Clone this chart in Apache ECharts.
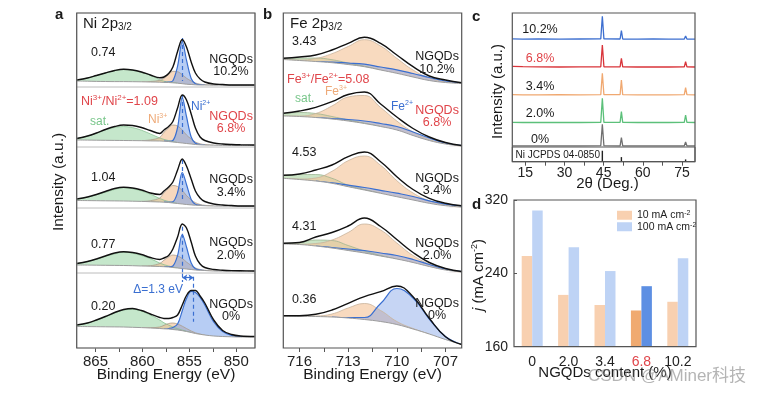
<!DOCTYPE html>
<html><head><meta charset="utf-8">
<script src="https://cdn.jsdelivr.net/npm/echarts@6/dist/echarts.min.js"></script>
<style>html,body{margin:0;padding:0;background:#fff}#c{width:770px;height:394px}</style>
</head><body><div id="c"></div>
<script>
const FONT = "'Liberation Sans', Arial, Helvetica, 'Noto Sans CJK SC', sans-serif";

// ---------- Panel a : Ni 2p3/2 ----------
const NI_E = [867.0, 865.85, 864.9, 863.95, 862.95, 862.0, 861.05, 860.1, 859.15, 858.15, 857.7, 857.2, 856.75, 856.25, 855.75, 855.3, 854.8, 854.35, 853.85, 853.35, 852.4, 851.45, 850.5, 849.55, 848.0];
const NI_SAMPLES = ['10.2%', '6.8%', '3.4%', '2.0%', '0%'];
const NI_RATIO = ['0.74', '1.09', '1.04', '0.77', '0.20'];
const NI_TICKS = [865, 862.5, 860, 857.5, 855, 852.5, 850];
const NI_TICK_LABELS = [865, 860, 855, 850];

const NI_BG_102 = [6, 5.8, 5.6, 5.5, 5.4, 5.4, 5.3, 5.2, 5, 4.8, 4.6, 4.5, 4.2, 3.8, 3.3, 2.8, 2.5, 2.2, 2, 2, 1.8, 1.8, 1.8, 1.8, 1.8];
const NI_SAT_102 = [1, 3.2, 5.8, 8.5, 11, 12.3, 11.5, 9.5, 6.8, 2.5, 1.2, 0.5, 0.2, 0, 0, 0, 0, 0, 0, 0, 0, 0, 0, 0, 0];
const NI_N3_102 = [0, 0, 0, 0, 0, 0, 0, 0, 0.5, 1.8, 4, 8, 11.5, 11.5, 9, 6, 3.5, 1.8, 0.8, 0.3, 0, 0, 0, 0, 0];
const NI_N2_102 = [0, 0, 0, 0, 0, 0, 0, 0, 0, 0, 0, 0.3, 2, 17, 42, 24, 6, 1, 0.2, 0, 0, 0, 0, 0, 0];
const NI_ENV_102 = [7, 9, 11.5, 14, 16.5, 17.7, 17, 15, 12, 9.2, 10, 13.5, 20, 35.5, 47.5, 40, 25, 14, 8, 5, 3, 2.5, 2, 2, 2];

const NI_BG_68 = [7, 6.9, 6.8, 6.7, 6.6, 6.5, 6.4, 6.3, 6.1, 6, 5.8, 5.5, 5, 4.5, 4, 3.5, 3, 2.5, 2.2, 2, 1.8, 1.6, 1.5, 1.5, 1.5];
const NI_SAT_68 = [1.5, 4, 7, 10.5, 13, 14, 13, 10.5, 7, 3, 1.8, 0.9, 0.3, 0, 0, 0, 0, 0, 0, 0, 0, 0, 0, 0, 0];
const NI_N3_68 = [0, 0, 0, 0, 0, 0, 0, 0, 1, 3.5, 9, 13.5, 17, 16.5, 13, 8.5, 5, 2.5, 1, 0.4, 0, 0, 0, 0, 0];
const NI_N2_68 = [0, 0, 0, 0, 0, 0, 0, 0, 0, 0, 0, 0.2, 1.5, 15, 45.5, 27, 7, 1.2, 0.2, 0, 0, 0, 0, 0, 0];
const NI_ENV_68 = [8.5, 11, 14, 17.5, 20.5, 22, 21.5, 19.5, 16.5, 13.5, 17, 20.5, 25.5, 39, 52, 47, 33, 19, 10, 6.5, 4, 3, 2.5, 2.2, 2];

const NI_BG_34 = [7.5, 7.4, 7.3, 7.2, 7.1, 7, 6.8, 6.6, 6.3, 6, 5.8, 5.5, 5, 4.5, 4, 3.5, 3.1, 2.8, 2.5, 2.3, 2, 1.9, 1.8, 1.8, 1.8];
const NI_SAT_34 = [1.5, 3.5, 6, 8.5, 11.5, 13.5, 12.5, 10.5, 7.5, 3.5, 2, 1, 0.4, 0, 0, 0, 0, 0, 0, 0, 0, 0, 0, 0, 0];
const NI_N3_34 = [0, 0, 0, 0, 0, 0, 0, 0, 1, 4, 9.5, 14, 17.5, 17, 13.5, 9, 5, 2.5, 1, 0.4, 0, 0, 0, 0, 0];
const NI_N2_34 = [0, 0, 0, 0, 0, 0, 0, 0, 0, 0, 0, 0.2, 1.2, 11, 31.5, 20, 5.5, 1, 0.2, 0, 0, 0, 0, 0, 0];
const NI_ENV_34 = [9, 11, 13.5, 16.5, 19.5, 20.7, 20, 18, 15, 13.5, 17, 21, 26, 38, 49, 42, 29, 17, 10, 6.5, 4, 3, 2.5, 2, 2];

const NI_BG_20 = [8, 7.9, 7.8, 7.7, 7.6, 7.5, 7.3, 7, 6.8, 6.5, 6.3, 6, 5.5, 5, 4.5, 4, 3.5, 3, 2.7, 2.5, 2, 1.9, 1.8, 1.8, 1.8];
const NI_SAT_20 = [1.5, 3.5, 6, 9, 11.5, 13.5, 12.5, 10.5, 7.5, 3.5, 2, 1, 0.4, 0, 0, 0, 0, 0, 0, 0, 0, 0, 0, 0, 0];
const NI_N3_20 = [0, 0, 0, 0, 0, 0, 0, 0, 0.5, 3, 6.5, 10, 12.5, 12, 10, 7, 4, 2, 0.8, 0.3, 0, 0, 0, 0, 0];
const NI_N2_20 = [0, 0, 0, 0, 0, 0, 0, 0, 0, 0, 0, 0.2, 1.5, 12.5, 34, 22, 6.5, 1.2, 0.2, 0, 0, 0, 0, 0, 0];
const NI_ENV_20 = [9.5, 11.5, 14, 17, 20, 21.3, 20.5, 18.5, 15.5, 13.5, 15, 17.5, 24, 36, 49, 45, 31, 17, 9, 5.5, 3.5, 2.8, 2.4, 2.2, 2];

const NI_BG_0 = [21.5, 21.4, 21.3, 21.2, 21.1, 21, 20.7, 20.4, 20, 19.5, 19.2, 19, 18.5, 18, 17.3, 16.5, 15.5, 14.5, 13.7, 13, 12, 11.5, 11.2, 11, 11];
const NI_SAT_0 = [1.5, 3.5, 6.5, 10, 14, 17, 18, 16.5, 13, 8.5, 6, 4, 2.5, 1.3, 0.6, 0.2, 0, 0, 0, 0, 0, 0, 0, 0, 0];
const NI_N3_0 = [0, 0, 0, 0, 0, 0, 0, 0, 0.3, 1.5, 3.5, 5.5, 6.5, 6, 4.5, 3, 1.5, 0.7, 0.2, 0, 0, 0, 0, 0, 0];
const NI_N2_0 = [0, 0, 0, 0, 0, 0, 0, 0, 0, 0, 0, 0.5, 2, 6, 20, 33, 41, 41, 37, 30, 14, 5, 1.5, 0.5, 0];
const NI_ENV_0 = [23, 25, 28, 31.5, 35.5, 38.5, 39.5, 37.5, 34, 30.5, 29.5, 29.5, 30.5, 33, 43, 52.5, 57.5, 57.5, 52, 45, 28, 17.5, 13.5, 12, 11.5];

const NI_PEAK_E = [855.75, 855.75, 855.75, 855.75, 854.55];
const NI_DASH_TOP = [49, 52, 48, 46.3, 71.3];
const NI_DASH_BOTTOM = [6, 10, 8, 0, 26.3];
const NI_SHIFT = [855.75, 854.55];   // Δ = 1.3 eV between the Ni2+ maxima

// ---------- Panel b : Fe 2p3/2 ----------
const FE_E = [717, 716, 715, 714, 713, 712, 711, 710, 709, 708, 707, 706];
const FE_RATIO = ['3.43', '5.08', '4.53', '4.31', '0.36'];
const FE_TICKS = [716, 714.5, 713, 711.5, 710, 708.5, 707];
const FE_TICK_LABELS = [716, 713, 710, 707];

const FE_BG_102 = [27.5, 26.5, 25.5, 24.3, 22.5, 20.3, 17, 13.7, 10, 6.5, 4.5, 3.5];
const FE_SAT_102 = [1, 2.5, 3.5, 3, 1.5, 0.5, 0, 0, 0, 0, 0, 0];
const FE_F3_102 = [0, 0.5, 3, 9, 18, 27, 24, 15, 7, 2.5, 0.5, 0];
const FE_F2_102 = [0, 0, 0, 0.5, 1.5, 2.5, 3, 3.5, 3.5, 3, 1.5, 0.5];
const FE_ENV_102 = [28.7, 30, 32, 37, 43.7, 49.7, 43.7, 32, 20.3, 11, 7, 4.3];

const FE_BG_68 = [31, 30.5, 29.5, 28, 26, 23.5, 20.5, 17, 11.5, 6.5, 3, 1];
const FE_SAT_68 = [2.5, 4, 4, 2.5, 1, 0.3, 0, 0, 0, 0, 0, 0];
const FE_F3_68 = [0, 0.5, 4, 13, 24, 28, 19, 9, 3.5, 1, 0.2, 0];
const FE_F2_68 = [0, 0, 0, 0.5, 1.5, 2.5, 3, 3.5, 3.5, 2.5, 1, 0.3];
const FE_ENV_68 = [33.7, 36, 39.7, 45.3, 52.5, 55, 43, 30, 18.5, 10, 4.5, 1.5];

const FE_BG_34 = [29.7, 28.5, 27, 24.7, 21.3, 18, 14.7, 11.3, 8, 4.7, 2.3, 1];
const FE_SAT_34 = [3, 5, 6.5, 5, 1.5, 0.5, 0, 0, 0, 0, 0, 0];
const FE_F3_34 = [0, 0.5, 3, 12, 26, 34, 28, 16, 7, 2.5, 0.5, 0];
const FE_F2_34 = [0, 0, 0, 0.5, 1.5, 2.5, 3, 3.5, 3.5, 2.5, 1.5, 0.8];
const FE_ENV_34 = [32.7, 34, 38, 43, 51.3, 56, 46.3, 31.3, 18.5, 9.7, 4.7, 2.3];

const FE_BG_20 = [29, 28.5, 27, 25, 22.5, 20, 17, 14, 10.5, 6.5, 3, 1];
const FE_SAT_20 = [0.5, 2, 6, 7.5, 5, 2, 0.5, 0, 0, 0, 0, 0];
const FE_F3_20 = [0, 0.3, 2.5, 8, 18, 29, 26, 16, 7, 2.5, 0.5, 0];
const FE_F2_20 = [0, 0, 0, 0.5, 1.5, 2.5, 3, 3.5, 3, 2, 1, 0.3];
const FE_ENV_20 = [29.7, 30.5, 36, 40.5, 47, 55, 46.5, 33.5, 20.5, 10.5, 4.5, 1.5];

const FE_BG_0 = [32, 31.8, 31.5, 31, 30, 28.5, 26.5, 23.5, 19, 14, 8.5, 3.5];
const FE_SAT_0 = [0, 0, 0, 0, 0, 0, 0, 0, 0, 0, 0, 0];
const FE_F3_0 = [0, 0, 0.5, 3, 10, 16, 11, 3, 0.5, 0, 0, 0];
const FE_F2_0 = [0, 0, 0, 0, 0.5, 2, 18, 36, 31, 15, 3, 0];
const FE_ENV_0 = [32.3, 32.3, 33.7, 38, 44.7, 51.3, 56.3, 62, 51.3, 29.7, 11.3, 3.5];

// ---------- Panel c : XRD ----------
const XRD_X = [10, 14, 20, 28, 36, 43.9, 44.5, 45.1, 51.3, 51.8, 52.3, 58, 64, 70, 75.9, 76.4, 76.9, 80];
const XRD_102 = [0.4, 0.2, 0.3, 0.2, 0.3, 0.4, 23, 0.4, 0.3, 8.6, 0.3, 0.2, 0.3, 0.2, 0.3, 3.3, 0.3, 0.2];
const XRD_68 = [1.0, 0.6, 0.4, 0.3, 0.4, 0.5, 22.3, 0.5, 0.4, 9, 0.4, 0.3, 0.3, 0.3, 0.4, 5.6, 0.4, 0.3];
const XRD_34 = [0.3, 0.2, 0.2, 0.3, 0.2, 0.3, 21.7, 0.3, 0.3, 15, 0.3, 0.2, 0.2, 0.2, 0.3, 7.3, 0.3, 0.2];
const XRD_20 = [0.3, 0.2, 0.3, 0.2, 0.2, 0.3, 24.4, 0.3, 0.3, 11, 0.3, 0.2, 0.2, 0.2, 0.3, 7.7, 0.3, 0.2];
const XRD_0 = [0.2, 0.2, 0.2, 0.2, 0.2, 0.3, 21.7, 0.3, 0.2, 8.4, 0.2, 0.2, 0.2, 0.2, 0.2, 4, 0.2, 0.2];
const XRD_LABELS = ['10.2%', '6.8%', '3.4%', '2.0%', '0%'];
const JCPDS_X = [44.5, 51.8, 76.4];
const JCPDS_I = [100, 42, 21];
const XRD_TICKS = [15, 22.5, 30, 37.5, 45, 52.5, 60, 67.5, 75];
const XRD_TICK_LABELS = [15, 30, 45, 60, 75];

// ---------- Panel d : bars ----------
const D_CATS = ['0', '2.0', '3.4', '6.8', '10.2'];
const D_J10 = [259, 216.5, 205.5, 199.5, 209];
const D_J100 = [308.5, 268.5, 242.5, 226, 256.5];
const D_HIGHLIGHT = '6.8';
const D_SERIES = ['10 mA cm-2', '100 mA cm-2'];

// ================= build =================
const RED = '#e0454a', BLUE = '#3a6fd1', GREEN = '#78c68a', ORANGE = '#eeaa78', INK = '#1a1a1a';
const grids = [], xAxes = [], yAxes = [], series = [], graphics = [];
function addGrid(g, x, y) {
  grids.push(g); const i = grids.length - 1;
  xAxes.push(Object.assign({ gridIndex: i }, x));
  yAxes.push(Object.assign({ gridIndex: i }, y));
  return i;
}
// absolute component curve (background + component), tails outside the peak left out
function absComp(bg, h) {
  const first = h.findIndex(v => v > 0);
  if (first < 0) return null;
  let last = h.length - 1; while (h[last] <= 0) last--;
  return h.map((v, i) => (i < first - 1 || i > last + 1) ? null : bg[i] + v);
}
function T(x, y, text, o = {}) {
  graphics.push({ type: 'text', x, y, rotation: o.rot || 0, z: 100, silent: true,
    style: { text, fill: o.color || INK, fontSize: o.size || 12, fontFamily: FONT, fontWeight: o.weight || 'normal',
      align: o.align || 'left', verticalAlign: o.va || 'middle', lineHeight: o.lh, rich: o.rich } });
}
function supRich(color, size) {
  return { n: { fontSize: size, fontFamily: FONT, fill: color, lineHeight: size + 3 },
           s: { fontSize: Math.round(size * 0.62), fontFamily: FONT, fill: color, verticalAlign: 'top' } };
}

const SUB_TOPS = [13, 87, 147, 208, 273], SUB_BOTS = [87, 147, 208, 273, 348];

function xpsPanel(left, width, xmin, xmax, ticks, tickLabels, E, sets, opt) {
  addGrid({ left, top: 13, width, height: 335, show: true, borderColor: '#555', borderWidth: 1.2, z: 30 },
    { type: 'value', min: xmin, max: xmax, inverse: true, axisLine: { show: false }, splitLine: { show: false },
      axisTick: { show: true, customValues: ticks, length: 4, lineStyle: { color: '#555' } },
      axisLabel: { customValues: tickLabels, fontSize: 15, color: '#222', margin: 6, fontFamily: FONT } },
    { type: 'value', show: false });
  sets.forEach((s, k) => {
    const h = SUB_BOTS[k] - SUB_TOPS[k];
    const gi = addGrid({ left, top: SUB_TOPS[k], width, height: h, show: opt.sep, borderColor: '#d2d2d2', borderWidth: 1, z: 20 },
      { type: 'value', min: xmin, max: xmax, inverse: true, show: false },
      { type: 'value', min: 0, max: h, show: false });
    const sm = opt.smooth;
    opt.comps.forEach((c) => {
      const av = absComp(s.bg, s[c.key]); if (!av) return;
      series.push({ type: 'line', xAxisIndex: gi, yAxisIndex: gi, data: E.map((e, i) => [e, av[i]]), symbol: 'none', smooth: sm,
        connectNulls: false, lineStyle: { color: c.line, width: c.lw }, areaStyle: { color: c.fill, opacity: 1, origin: 'start' }, z: 3, silent: true });
    });
    // background: white below it hides the parts of the component fills that lie under the baseline
    series.push({ type: 'line', xAxisIndex: gi, yAxisIndex: gi, data: E.map((e, i) => [e, s.bg[i]]), symbol: 'none', smooth: sm,
      lineStyle: { color: '#9c9c9c', width: 1 }, areaStyle: { color: '#fff', opacity: 1, origin: 'start' }, z: 4, silent: true });
    series.push({ type: 'line', xAxisIndex: gi, yAxisIndex: gi, data: E.map((e, i) => [e, s.env[i]]), symbol: 'none', smooth: sm,
      lineStyle: { color: '#111', width: 1.4 }, z: 8, silent: true, markLine: opt.mark ? opt.mark(k) : undefined });
  });
}

const NI_SETS = [
  { bg: NI_BG_102, sat: NI_SAT_102, c3: NI_N3_102, c2: NI_N2_102, env: NI_ENV_102 },
  { bg: NI_BG_68, sat: NI_SAT_68, c3: NI_N3_68, c2: NI_N2_68, env: NI_ENV_68 },
  { bg: NI_BG_34, sat: NI_SAT_34, c3: NI_N3_34, c2: NI_N2_34, env: NI_ENV_34 },
  { bg: NI_BG_20, sat: NI_SAT_20, c3: NI_N3_20, c2: NI_N2_20, env: NI_ENV_20 },
  { bg: NI_BG_0, sat: NI_SAT_0, c3: NI_N3_0, c2: NI_N2_0, env: NI_ENV_0 }];
const FE_SETS = [
  { bg: FE_BG_102, sat: FE_SAT_102, c3: FE_F3_102, c2: FE_F2_102, env: FE_ENV_102 },
  { bg: FE_BG_68, sat: FE_SAT_68, c3: FE_F3_68, c2: FE_F2_68, env: FE_ENV_68 },
  { bg: FE_BG_34, sat: FE_SAT_34, c3: FE_F3_34, c2: FE_F2_34, env: FE_ENV_34 },
  { bg: FE_BG_20, sat: FE_SAT_20, c3: FE_F3_20, c2: FE_F2_20, env: FE_ENV_20 },
  { bg: FE_BG_0, sat: FE_SAT_0, c3: FE_F3_0, c2: FE_F2_0, env: FE_ENV_0 }];

const COMPS_NI = [
  { key: 'sat', fill: 'rgba(150,212,160,0.55)', line: 'rgba(130,190,140,0.9)', lw: 0.8 },
  { key: 'c3', fill: 'rgba(242,188,142,0.58)', line: '#aa9c8c', lw: 0.8 },
  { key: 'c2', fill: 'rgba(105,150,232,0.48)', line: BLUE, lw: 1.2 }];
const COMPS_FE = [
  { key: 'sat', fill: 'rgba(160,205,150,0.55)', line: 'rgba(150,175,140,0.9)', lw: 0.8 },
  { key: 'c3', fill: 'rgba(244,196,152,0.62)', line: '#c8b29a', lw: 0.8 },
  { key: 'c2', fill: 'rgba(120,155,228,0.42)', line: BLUE, lw: 1.2 }];

const dashStyle = { type: [4, 3], color: BLUE, width: 1.2 };
xpsPanel(76.7, 178.3, 848, 867, NI_TICKS, NI_TICK_LABELS, NI_E, NI_SETS, { sep: true, smooth: 0.35, comps: COMPS_NI,
  mark: k => {
    const data = [[{ coord: [NI_PEAK_E[k], NI_DASH_TOP[k]] }, { coord: [NI_PEAK_E[k], NI_DASH_BOTTOM[k]] }]];
    if (k === 4) data.push([{ coord: [NI_SHIFT[0], 75] }, { coord: [NI_SHIFT[0], 66] }]);
    return { silent: true, symbol: 'none', label: { show: false }, lineStyle: dashStyle, data, animation: false };
  } });
// Δ arrow in the 0% Ni sub-panel (grid index 5)
series.push({ type: 'line', xAxisIndex: 5, yAxisIndex: 5, data: [], z: 9, markLine: { silent: true, symbol: ['arrow', 'arrow'], symbolSize: 5,
  label: { show: false }, lineStyle: { type: 'solid', color: BLUE, width: 1.2 },
  data: [[{ coord: [NI_SHIFT[0], 70.3] }, { coord: [NI_SHIFT[1], 70.3] }]] } });

xpsPanel(283.3, 178.4, 706, 717, FE_TICKS, FE_TICK_LABELS, FE_E, FE_SETS, { sep: false, smooth: 0.45, comps: COMPS_FE });

// ---- panel c ----
const C_LEFT = 512.3, C_W = 182.7;
addGrid({ left: C_LEFT, top: 13, width: C_W, height: 148.7, show: true, borderColor: '#555', borderWidth: 1.2, z: 30 },
  { type: 'value', min: 10, max: 80, axisLine: { show: false }, splitLine: { show: false },
    axisTick: { show: true, customValues: XRD_TICKS, length: 4, lineStyle: { color: '#555' } },
    axisLabel: { customValues: XRD_TICK_LABELS, fontSize: 14, color: '#222', margin: 4, fontFamily: FONT } },
  { type: 'value', show: false });
const XRD_SETS = [XRD_102, XRD_68, XRD_34, XRD_20, XRD_0];
const XRD_COLORS = ['#3d6fd0', '#d9343a', '#f0a870', '#5cc07a', '#707070'];
const XRD_BASE = [39.3, 67.3, 95, 122.7, 146];
XRD_SETS.forEach((d, k) => {
  const gi = addGrid({ left: C_LEFT, top: XRD_BASE[k] - 28, width: C_W, height: 28 },
    { type: 'value', min: 10, max: 80, show: false }, { type: 'value', min: 0, max: 28, show: false });
  series.push({ type: 'line', xAxisIndex: gi, yAxisIndex: gi, data: XRD_X.map((x, i) => [x, d[i]]), symbol: 'none', clip: false,
    lineStyle: { color: XRD_COLORS[k], width: 1.3 }, z: 4, silent: true });
});
const gj = addGrid({ left: C_LEFT, top: 147, width: C_W, height: 14.7, show: true, borderColor: '#555', borderWidth: 1, z: 25 },
  { type: 'value', min: 10, max: 80, show: false }, { type: 'value', min: 0, max: 134, show: false });
series.push({ type: 'bar', xAxisIndex: gj, yAxisIndex: gj, data: JCPDS_X.map((x, i) => [x, JCPDS_I[i]]), barWidth: 1.4,
  itemStyle: { color: '#222' }, silent: true });

// ---- panel d ----
const gd = addGrid({ left: 514, top: 200, width: 182, height: 146.7, show: true, borderColor: '#555', borderWidth: 1.2, z: 30 },
  { type: 'category', data: D_CATS, axisLine: { show: false }, axisTick: { show: false },
    axisLabel: { interval: 0, fontSize: 14, color: '#222', margin: 8, fontFamily: FONT,
      formatter: v => v === D_HIGHLIGHT ? '{r|' + v + '}' : v, rich: { r: { color: RED, fontSize: 14, fontFamily: FONT } } } },
  { type: 'value', min: 160, max: 320, interval: 80, axisLine: { show: false }, splitLine: { show: false },
    axisTick: { show: true, inside: true, length: 3, lineStyle: { color: '#555' } },
    axisLabel: { fontSize: 14, color: '#222', margin: 6, fontFamily: FONT } });
const hiIdx = D_CATS.indexOf(D_HIGHLIGHT);
series.push({ type: 'bar', name: D_SERIES[0], xAxisIndex: gd, yAxisIndex: gd, barWidth: 10.5, barGap: '0%',
  itemStyle: { color: '#f8d0b0' },
  data: D_J10.map((v, i) => i === hiIdx ? { value: v, itemStyle: { color: '#f0aa70' } } : v) });
series.push({ type: 'bar', name: D_SERIES[1], xAxisIndex: gd, yAxisIndex: gd, barWidth: 10.5, barGap: '0%',
  itemStyle: { color: '#bed3f5' },
  data: D_J100.map((v, i) => i === hiIdx ? { value: v, itemStyle: { color: '#5d8fe3' } } : v) });

// ---- texts ----
T(55, 15, 'a', { size: 15, weight: 'bold' });
T(263, 15, 'b', { size: 15, weight: 'bold' });
T(472, 17, 'c', { size: 15, weight: 'bold' });
T(472, 205, 'd', { size: 15, weight: 'bold' });

const titleRich = { a: { fontSize: 15, fontFamily: FONT, fill: INK, lineHeight: 17 }, b: { fontSize: 10, fontFamily: FONT, fill: INK, verticalAlign: 'bottom' } };
T(83, 24, '{a|Ni 2p}{b|3/2}', { rich: titleRich });
T(290, 24, '{a|Fe 2p}{b|3/2}', { rich: titleRich });

const A_RY = [53, null, 178, 245, 307];
const B_RY = [42, null, 153, 227, 300];
const A_NY = [65.5, 122.5, 186, 249, 310.5];
const B_NY = [63, 116.3, 184.5, 249.5, 309.7];
NI_SAMPLES.forEach((s, k) => {
  const col = k === 1 ? RED : INK;
  if (A_RY[k] !== null) T(91, A_RY[k], NI_RATIO[k], { size: 12.5 });
  if (B_RY[k] !== null) T(292, B_RY[k], FE_RATIO[k], { size: 12.5 });
  T(231, A_NY[k], 'NGQDs\n' + s, { size: 12.5, align: 'center', lh: 12.5, color: col });
  T(437, B_NY[k], 'NGQDs\n' + s, { size: 12.5, align: 'center', lh: 12.5, color: col });
});
T(81, 102, '{n|Ni}{s|3+}{n|/Ni}{s|2+}{n|=' + NI_RATIO[1] + '}', { rich: supRich(RED, 12.5) });
T(90, 122, 'sat.', { size: 12, color: GREEN });
T(148, 120, '{n|Ni}{s|3+}', { rich: supRich(ORANGE, 12) });
T(191, 107, '{n|Ni}{s|2+}', { rich: supRich(BLUE, 12) });
T(183, 289.5, 'Δ=1.3 eV', { size: 12, color: BLUE, align: 'right' });

T(287, 80, '{n|Fe}{s|3+}{n|/Fe}{s|2+}{n|=' + FE_RATIO[1] + '}', { rich: supRich(RED, 12.5) });
T(295, 99, 'sat.', { size: 12, color: GREEN });
T(325, 92, '{n|Fe}{s|3+}', { rich: supRich(ORANGE, 12) });
T(391, 107, '{n|Fe}{s|2+}', { rich: supRich(BLUE, 12) });

T(166, 374.5, 'Binding Energy (eV)', { size: 15.5, align: 'center' });
T(372.5, 374.5, 'Binding Energy (eV)', { size: 15.5, align: 'center' });
T(59, 182, 'Intensity (a.u.)', { size: 15.5, align: 'center', rot: Math.PI / 2 });

const C_LY = [30, 58.3, 86.7, 114, 139.3];
XRD_LABELS.forEach((s, k) => T(540, C_LY[k], s, { size: 12.5, align: 'center', color: k === 1 ? RED : INK }));
T(515.5, 155, 'Ni JCPDS 04-0850', { size: 10 });
T(607.5, 184, '2θ (Deg.)', { size: 15, align: 'center' });
T(497.5, 91.5, 'Intensity (a.u.)', { size: 15, align: 'center', rot: Math.PI / 2 });

T(479, 275, '{i|j}{n| (mA cm}{s|-2}{n|)}', { rot: Math.PI / 2, align: 'center',
  rich: { i: { fontSize: 15, fontFamily: FONT, fontStyle: 'italic', fill: INK, lineHeight: 18 },
          n: { fontSize: 15, fontFamily: FONT, fill: INK, lineHeight: 18 },
          s: { fontSize: 9, fontFamily: FONT, fill: INK, verticalAlign: 'top' } } });
T(605, 373, 'NGQDs content (%)', { size: 15, align: 'center' });
T(667, 376, 'CSDN @AMiner科技', { size: 17, align: 'center', color: 'rgba(130,130,130,0.6)' });

const chart = echarts.init(document.getElementById('c'), null, { renderer: 'canvas' });
chart.setOption({
  animation: false,
  backgroundColor: '#fff',
  textStyle: { fontFamily: FONT },
  grid: grids, xAxis: xAxes, yAxis: yAxes, series,
  legend: { data: D_SERIES, left: 612, top: 205, orient: 'vertical', itemWidth: 15, itemHeight: 9, itemGap: 1,
    icon: 'rect', selectedMode: false,
    formatter: name => name.replace('cm-2', 'cm{s|-2}'),
    textStyle: { fontSize: 10.5, color: '#222', fontFamily: FONT, rich: { s: { fontSize: 7, verticalAlign: 'top', fontFamily: FONT } } } },
  graphic: graphics
});
</script></body></html>
